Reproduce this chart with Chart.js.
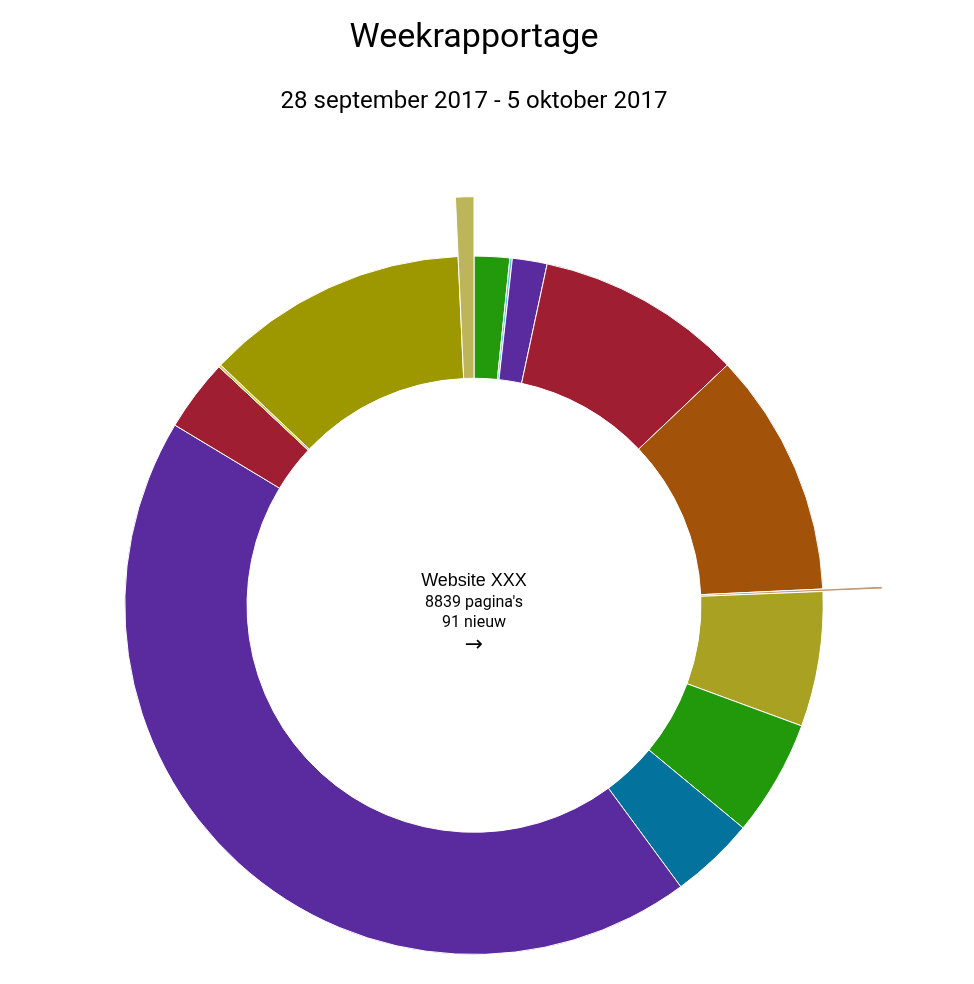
<!DOCTYPE html>
<html>
<head>
<meta charset="utf-8">
<title>Weekrapportage</title>
<script src="https://cdn.jsdelivr.net/npm/chart.js@4.4.0/dist/chart.umd.min.js"></script>
<style>
  html, body { margin: 0; padding: 0; background: #fff; }
  #wrap { width: 974px; height: 984px; }
</style>
</head>
<body>
<div id="wrap"><canvas id="weekChart" width="974" height="984"></canvas></div>
<script>
// pages per section, clockwise from 12 o'clock
var sections = ["Sectie 1", "Sectie 2", "Sectie 3", "Sectie 4", "Sectie 5", "Sectie 6", "Sectie 7",
                "Sectie 8", "Sectie 9", "Sectie 10", "Sectie 11", "Sectie 12", "Sectie 13", "Sectie 14"];
var pages = [145, 10, 142, 845, 1002, 10, 552, 476, 346, 3864, 295, 10, 1078, 64];
var colors = ["#229a0b", "#5bc0e8", "#5a2a9f", "#a01e31", "#a3520a", "#c49a78", "#a9a122",
              "#21990b", "#03739d", "#5a2a9f", "#a01e31", "#d8cc40", "#9d9800", "#bdb55a"];
// sections that stick out of the ring
var highlighted = [5, 13];

var centerLines = ["Website XXX", "8839 pagina's", "91 nieuw", "\u2192"];

var longSlices = {
  id: 'longSlices',
  beforeDatasetsDraw: function (chart) {
    var meta = chart.getDatasetMeta(0);
    var base = meta.controller.outerRadius;
    highlighted.forEach(function (i) {
      meta.data[i].outerRadius = base * 1.17;
    });
  }
};

var centerText = {
  id: 'centerText',
  afterDraw: function (chart) {
    var meta = chart.getDatasetMeta(0);
    var x = meta.data[0].x, y = meta.data[0].y;
    var ctx = chart.ctx;
    ctx.save();
    ctx.fillStyle = '#000';
    ctx.textAlign = 'center';
    ctx.textBaseline = 'middle';
    ctx.font = '18px "Liberation Sans", Arial, sans-serif';
    ctx.fillText(centerLines[0], x, y - 24);
    ctx.font = '16px Roboto, sans-serif';
    ctx.fillText(centerLines[1], x, y - 2);
    ctx.fillText(centerLines[2], x, y + 18);
    ctx.font = '22px "DejaVu Sans", sans-serif';
    ctx.fillText(centerLines[3], x, y + 40);
    ctx.restore();
  }
};

var ctx = document.getElementById('weekChart').getContext('2d');
var chart = new Chart(ctx, {
    type: 'doughnut',
    data: {
        labels: sections,
        datasets: [{
            data: pages,
            backgroundColor: colors,
            borderColor: '#fff',
            borderWidth: 1,
            clip: false
        }]
    },
    options: {
        responsive: false,
        animation: false,
        cutout: '65%',
        layout: { padding: { left: 124, right: 150, top: 0, bottom: 29 } },
        plugins: {
            legend: { display: false },
            tooltip: { enabled: false },
            title: {
                display: true,
                text: 'Weekrapportage',
                color: '#000',
                font: { family: 'Roboto', size: 34, weight: 'normal' },
                padding: { top: 18, bottom: 12 }
            },
            subtitle: {
                display: true,
                text: '28 september 2017 - 5 oktober 2017',
                color: '#000',
                font: { family: 'Roboto', size: 24, weight: 'normal' },
                padding: { top: 17, bottom: 139 }
            }
        }
    },
    plugins: [longSlices, centerText]
});
</script>
</body>
</html>
